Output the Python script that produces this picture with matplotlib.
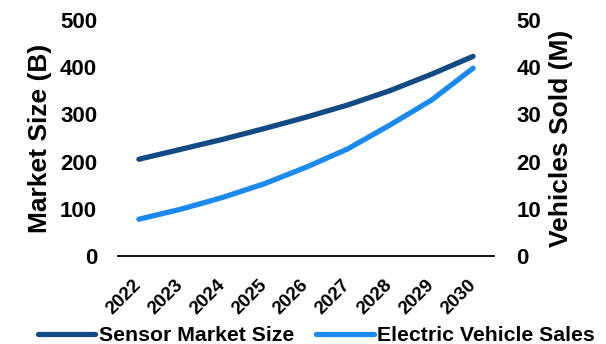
import matplotlib.pyplot as plt

plt.rcParams['font.family'] = ['Liberation Sans', 'DejaVu Sans']
plt.rcParams['font.weight'] = 'bold'
plt.rcParams['axes.labelweight'] = 'bold'

# Forecast series
years = ['2022', '2023', '2024', '2025', '2026', '2027', '2028', '2029', '2030']
sensor_market = [205, 226, 247, 270, 294, 320, 350, 385, 423]
ev_sales = [7.8, 9.9, 12.4, 15.3, 18.8, 22.7, 27.7, 33.0, 39.8]

dark_blue = '#124B84'
light_blue = '#1B8AEE'

W, H = 606, 344
fig = plt.figure(figsize=(W / 100, H / 100), dpi=100)
ax = fig.add_axes([118 / W, 1 - 256 / H, 376 / W, 236 / H])
ax2 = ax.twinx()

x = range(len(years))
l1, = ax.plot(x, sensor_market, color=dark_blue, lw=3.8, solid_capstyle='round',
              label='Sensor Market Size')
l2, = ax2.plot(x, ev_sales, color=light_blue, lw=3.8, solid_capstyle='round',
               label='Electric Vehicle Sales')

ax.set_xlim(-0.5, len(years) - 0.5)
ax.set_ylim(0, 500)
ax2.set_ylim(0, 50)
ax.set_yticks(range(0, 501, 100))
ax2.set_yticks(range(0, 51, 10))

ax.set_xticks(list(x))
ax.set_xticklabels(years, rotation=45, ha='right', va='center', rotation_mode='anchor')

for a in (ax, ax2):
    for s in ('top', 'left', 'right'):
        a.spines[s].set_visible(False)
    a.spines['bottom'].set_visible(a is ax)
    a.tick_params(axis='both', length=0, labelsize=16)
ax.spines['bottom'].set_linewidth(1.3)
ax.tick_params(axis='y', pad=15)
ax2.tick_params(axis='y', pad=16)
ax.tick_params(axis='x', labelsize=13.5, pad=19)

ax.set_ylabel('Market Size (B)', fontsize=19, labelpad=6)
ax2.set_ylabel('Vehicles Sold (M)', fontsize=19, labelpad=6)

fig.legend(handles=[l1, l2], loc='center left', bbox_to_anchor=(38 / W, 0.024), ncol=2,
           frameon=False, fontsize=15.3, handlelength=2.7, handletextpad=0.15,
           columnspacing=1.05, borderpad=0, borderaxespad=0)

fig.savefig('out.png', dpi=100)
